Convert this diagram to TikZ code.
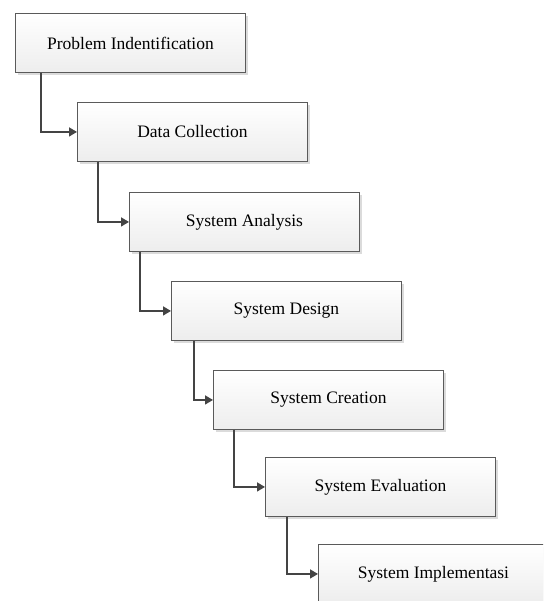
\documentclass[tikz,border=0pt]{standalone}
\usepackage{fontspec}
\setmainfont{Liberation Serif}
\usetikzlibrary{arrows.meta,shadows}

\definecolor{boxline}{HTML}{5A5A5A}
\definecolor{linkline}{HTML}{444444}

\tikzset{
  stepbox/.style={draw=boxline, line width=0.9pt, top color=white, bottom color=gray!14,
    minimum width=230pt, minimum height=59pt, inner sep=0pt, anchor=north west,
    drop shadow={shadow xshift=2.5pt, shadow yshift=-2.5pt, fill=gray!35, opacity=0.8},
    font=\fontsize{17.5}{20}\selectfont},
  link/.style={draw=linkline, line width=1.6pt, -{Triangle[length=8pt,width=9pt]}}
}

\begin{document}
\begin{tikzpicture}[x=1pt, y=-1pt]
\useasboundingbox (0,0) rectangle (543,601);
\clip (0,0) rectangle (543,601);

% Steps
\node[stepbox] (ident) at (15,13) {Problem Indentification};
\node[stepbox] (collect) at (77,102) {Data Collection};
\node[stepbox] (analysis) at (129,192) {System Analysis};
\node[stepbox] (design) at (171,281) {System Design};
\node[stepbox] (creation) at (213,370) {System Creation};
\node[stepbox] (eval) at (265,457) {System Evaluation};
\node[stepbox] (impl) at (318,544) {System Implementasi};

% Flow between steps
\draw[link] ([xshift=26pt]ident.south west) |- (collect.west);
\draw[link] ([xshift=21pt]collect.south west) |- (analysis.west);
\draw[link] ([xshift=11pt]analysis.south west) |- (design.west);
\draw[link] ([xshift=23pt]design.south west) |- (creation.west);
\draw[link] ([xshift=21pt]creation.south west) |- (eval.west);
\draw[link] ([xshift=22pt]eval.south west) |- (impl.west);

\end{tikzpicture}
\end{document}
